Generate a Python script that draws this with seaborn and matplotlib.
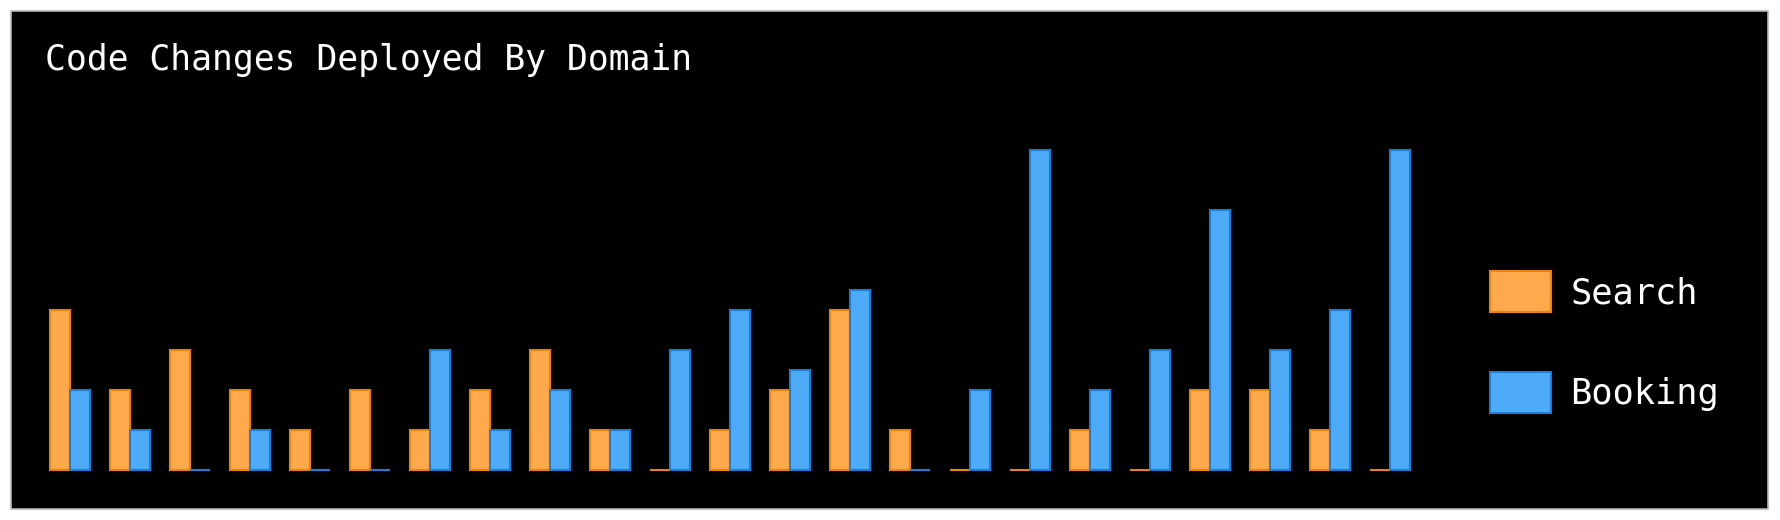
import matplotlib
matplotlib.use("Agg")
import matplotlib.pyplot as plt
from matplotlib.patches import Rectangle
import pandas as pd
import seaborn as sns

# values (no axis shown, so units are relative)
groups = list(range(1, 24))
search = [8, 4, 6, 4, 2, 4, 2, 4, 6, 2, 0, 2, 4, 8, 2, 0, 0, 2, 0, 4, 4, 2, 0]
booking = [4, 2, 0, 2, 0, 0, 6, 2, 4, 2, 6, 8, 5, 9, 0, 4, 16, 4, 6, 13, 6, 8, 16]
domains = ["Search", "Booking"]
fill_colors = ["#FFA94D", "#4DABF7"]
edge_colors = ["#E8830C", "#1C7ED6"]

df = pd.DataFrame({
    "group": groups * 2,
    "domain": ["Search"] * len(groups) + ["Booking"] * len(groups),
    "changes": search + booking,
})

sns.set_theme(style="dark")
plt.rcParams["font.family"] = ["DejaVu Sans Mono", "DejaVu Sans"]

W, H = 1780, 520
fig = plt.figure(figsize=(W / 100, H / 100), dpi=100, facecolor="white")

# black card behind everything
fig.patches.append(Rectangle((11 / W, 11 / H), (1768 - 11) / W, (509 - 11) / H,
                             transform=fig.transFigure, facecolor="black",
                             edgecolor="#b5b5b5", linewidth=1.2, zorder=-5))

ax = fig.add_axes([40 / W, 50 / H, 1380 / W, 320 / H])
sns.barplot(data=df, x="group", y="changes", hue="domain", hue_order=domains,
            palette=fill_colors, saturation=1, width=0.68, errorbar=None, ax=ax)

for container, ec in zip(ax.containers, edge_colors):
    for bar in container:
        bar.set_edgecolor(ec)
        bar.set_linewidth(1.5)
        bar.set_clip_on(False)

ax.set_xlim(-0.5, 22.5)
ax.set_ylim(0, 16)
ax.set_facecolor("none")
ax.axis("off")

handles, labels = ax.get_legend_handles_labels()
leg = ax.legend(handles, labels, loc="center left",
                bbox_to_anchor=(1490 / W, 178 / H), bbox_transform=fig.transFigure,
                frameon=False, fontsize=25.5, labelcolor="white",
                handlelength=1.72, handleheight=1.4, handletextpad=0.55,
                labelspacing=1.7, borderpad=0, borderaxespad=0)
for h, ec in zip(leg.legend_handles, edge_colors):
    h.set_edgecolor(ec)
    h.set_linewidth(1.5)

fig.text(45 / W, 1 - 70 / H, "Code Changes Deployed By Domain", color="white",
         fontsize=25, ha="left", va="baseline")

fig.savefig("out.png", dpi=100, facecolor="white")
